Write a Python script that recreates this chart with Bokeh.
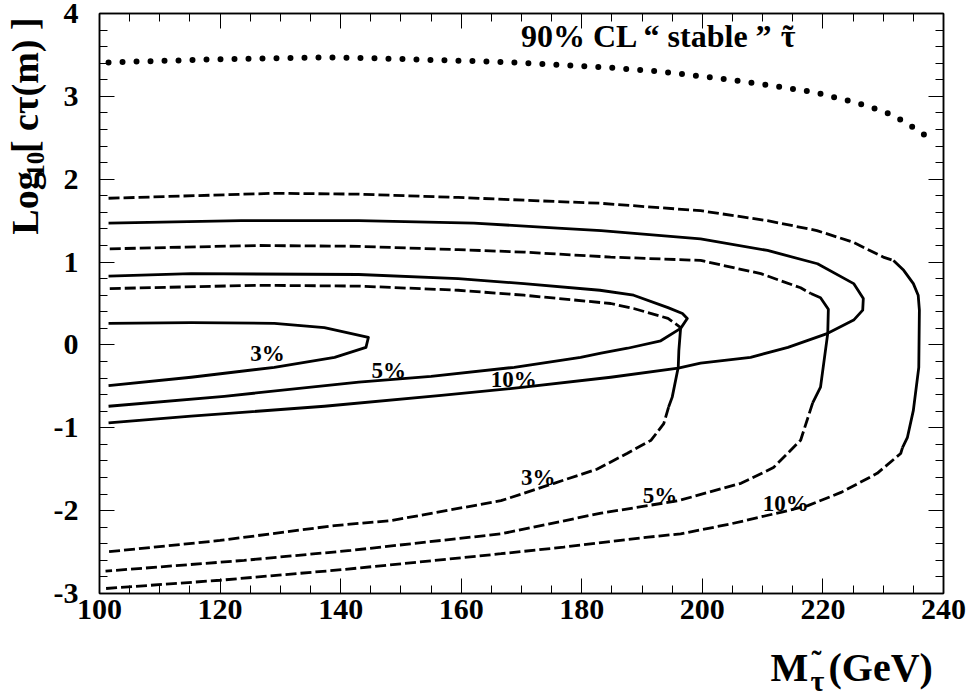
import numpy as np
from bokeh.plotting import figure
from bokeh.models import Range1d, LinearAxis, Label, FixedTicker
from bokeh.layouts import row, column
from bokeh.embed import file_html
from bokeh.resources import INLINE

# ---------------- data ----------------
x_ticks = [100, 120, 140, 160, 180, 200, 220, 240]
y_ticks = [-3, -2, -1, 0, 1, 2, 3, 4]
y_tick_labels = ["-3", "-2", "-1", "0", "1", "2", "3", "4"]

# 90% CL "stable" stau limit (dotted)
stable_x = [101.5, 111, 121, 130, 137, 145, 155, 165, 174, 184, 193, 202.5, 211.6, 218.5, 225.7, 230.4, 232.6, 235.1, 237.6]
stable_y = [3.41, 3.43, 3.45, 3.46, 3.47, 3.46, 3.44, 3.42, 3.39, 3.35, 3.30, 3.22, 3.13, 3.05, 2.92, 2.81, 2.73, 2.62, 2.50]

# solid contours (closed towards the left edge)
sol3_x = [101.5, 115.2, 129, 137.3, 144.6, 144.2, 139, 129, 115.2, 101.5]
sol3_y = [0.26, 0.27, 0.26, 0.21, 0.09, -0.03, -0.15, -0.27, -0.39, -0.49]

sol5_x = [101.5, 115.2, 143, 159.5, 170.4, 183, 188.6, 194.3, 196.7, 197.5, 196.4, 193.1, 187.6, 183.2, 179.8, 168.8, 155, 143, 120.7, 101.5]
sol5_y = [0.83, 0.86, 0.85, 0.80, 0.74, 0.66, 0.60, 0.45, 0.38, 0.32, 0.20, 0.05, -0.04, -0.10, -0.15, -0.27, -0.38, -0.45, -0.62, -0.74]

sol10_x = [101.5, 123.5, 143, 162.1, 176, 183.2, 199.7, 210.8, 219.1, 225.1, 226.7, 226.6, 225.1, 220.8, 214.2, 208, 199.7, 196, 184.8, 170.4, 156.7, 137.3, 115.2, 101.5]
sol10_y = [1.47, 1.50, 1.50, 1.47, 1.41, 1.38, 1.28, 1.14, 0.98, 0.74, 0.56, 0.42, 0.30, 0.14, -0.03, -0.15, -0.22, -0.28, -0.39, -0.51, -0.61, -0.74, -0.86, -0.94]

# outer contours: dashed upper part, solid turning part, dashed lower part
d3_top_x = [101.7, 126.3, 143, 159.5, 170.4, 184.8, 188.6, 194.3, 196.4]
d3_top_y = [0.68, 0.72, 0.71, 0.66, 0.60, 0.50, 0.44, 0.32, 0.21]
d3_mid_x = [196.4, 196.1, 196.0, 195.0, 194.4]
d3_mid_y = [0.21, -0.07, -0.27, -0.63, -0.75]
d3_bot_x = [194.4, 193.6, 191.5, 187.5, 182.5, 175.4, 166.6, 148.4, 139, 120, 101]
d3_bot_y = [-0.75, -0.95, -1.15, -1.31, -1.50, -1.67, -1.88, -2.12, -2.18, -2.36, -2.50]

d5_top_x = [101.7, 126.3, 143, 159.5, 170.4, 184.8, 199.7, 209.7, 216.3, 218.0]
d5_top_y = [1.16, 1.20, 1.19, 1.15, 1.12, 1.06, 1.02, 0.86, 0.69, 0.62]
d5_mid_x = [218.0, 219.6, 220.9, 220.8, 219.6, 218.3]
d5_mid_y = [0.62, 0.57, 0.43, 0.14, -0.51, -0.70]
d5_bot_x = [218.3, 216.3, 211.8, 206.4, 196, 183.2, 166.6, 141.7, 124, 101]
d5_bot_y = [-0.70, -1.15, -1.48, -1.67, -1.88, -2.03, -2.28, -2.48, -2.60, -2.73]

d10_top_x = [101.5, 129, 143, 159.5, 176, 183, 199.7, 210.8, 219, 225, 230, 231.7]
d10_top_y = [1.77, 1.83, 1.82, 1.78, 1.73, 1.71, 1.62, 1.50, 1.38, 1.24, 1.06, 1.02]
d10_mid_x = [231.7, 233.4, 235.0, 235.8, 236.0, 235.9, 235.0, 234.0, 233.2]
d10_mid_y = [1.02, 0.90, 0.74, 0.60, 0.42, -0.27, -0.79, -1.12, -1.24]
d10_bot_x = [233.2, 232.9, 229, 223, 217.5, 213, 204.7, 196.4, 191, 177, 166.6, 140.6, 120, 101]
d10_bot_y = [-1.24, -1.31, -1.55, -1.78, -1.94, -2.02, -2.16, -2.28, -2.32, -2.44, -2.52, -2.71, -2.84, -2.94]

contour_labels = ["3%", "5%", "10%", "3%", "5%", "10%"]
label_x = [125.0, 145.1, 164.9, 169.9, 190.1, 210.0]
label_y = [-0.105, -0.31, -0.415, -1.605, -1.815, -1.915]

FONT = "Liberation Serif"

# ---------------- main figure ----------------
p = figure(width=920, height=640,
           x_range=Range1d(100, 240), y_range=Range1d(-3, 4),
           output_backend="svg", toolbar_location=None,
           min_border_left=48, min_border_right=27,
           min_border_top=13, min_border_bottom=47)
p.xgrid.visible = False
p.ygrid.visible = False
p.background_fill_color = "white"
p.border_fill_color = "white"
p.outline_line_color = "black"
p.outline_line_width = 1.5

x_minor = list(np.arange(100, 241, 5))
y_minor = [round(v, 1) for v in np.arange(-3, 4.01, 0.2)]


def style_axis(ax, ticks, minor, show_labels):
    ax.ticker = FixedTicker(ticks=ticks, minor_ticks=minor)
    ax.axis_line_color = "black"
    ax.axis_line_width = 1.5
    ax.major_tick_in = 15
    ax.major_tick_out = 0
    ax.minor_tick_in = 8
    ax.minor_tick_out = 0
    ax.major_tick_line_color = "black"
    ax.minor_tick_line_color = "black"
    ax.major_tick_line_width = 1
    ax.minor_tick_line_width = 1
    ax.major_label_text_font = FONT
    ax.major_label_text_font_style = "bold"
    ax.major_label_text_font_size = "30px"
    ax.major_label_text_color = "black"
    if not show_labels:
        ax.major_label_overrides = {t: "" for t in ticks}
        ax.major_label_standoff = 0


style_axis(p.xaxis[0], x_ticks, x_minor, True)
p.xaxis[0].major_label_standoff = 6
style_axis(p.yaxis[0], y_ticks, y_minor, True)
p.yaxis[0].major_label_standoff = 21
p.yaxis[0].major_label_overrides = {t: s for t, s in zip(y_ticks, y_tick_labels)}

top = LinearAxis()
style_axis(top, x_ticks, x_minor, False)
p.add_layout(top, "above")
right = LinearAxis()
style_axis(right, y_ticks, y_minor, False)
p.add_layout(right, "right")

# ---------------- curves ----------------
LW = 2.8
DASH = "11 4"
p.line(stable_x, stable_y, line_color="black", line_width=6, line_dash="0 14", line_cap="round")

for xs, ys in [(sol3_x, sol3_y), (sol5_x, sol5_y), (sol10_x, sol10_y)]:
    p.line(xs, ys, line_color="black", line_width=LW, line_join="round")

for tx, ty, mx, my, bx, by in [
    (d3_top_x, d3_top_y, d3_mid_x, d3_mid_y, d3_bot_x, d3_bot_y),
    (d5_top_x, d5_top_y, d5_mid_x, d5_mid_y, d5_bot_x, d5_bot_y),
    (d10_top_x, d10_top_y, d10_mid_x, d10_mid_y, d10_bot_x, d10_bot_y),
]:
    p.line(tx, ty, line_color="black", line_width=LW, line_dash=DASH)
    p.line(mx, my, line_color="black", line_width=LW, line_join="round")
    p.line(bx, by, line_color="black", line_width=LW, line_dash=DASH)


def add_text(fig, x, y, text, size, angle=0.0, align="left", baseline="alphabetic"):
    fig.add_layout(Label(x=x, y=y, text=text, text_font=FONT, text_font_style="bold",
                         text_font_size=size, text_color="black", angle=angle,
                         text_align=align, text_baseline=baseline))


for t, lx, ly in zip(contour_labels, label_x, label_y):
    add_text(p, lx, ly, t, "23px")

# in-frame title: 90% CL " stable " stau
add_text(p, 169.9, 3.73, "90% CL \u201c stable \u201d", "32px")
add_text(p, 213.0, 3.73, "\u03c4", "32px")
add_text(p, 213.35, 3.73, "\u02dc", "32px")


# ---------------- axis titles (text-only side panels) ----------------
def text_fig(w, h):
    f = figure(width=w, height=h, x_range=Range1d(0, w), y_range=Range1d(0, h),
               output_backend="svg", toolbar_location=None, min_border=0,
               x_axis_type=None, y_axis_type=None)
    f.outline_line_color = None
    f.background_fill_color = "white"
    f.border_fill_color = "white"
    return f


left = text_fig(50, 640)          # y data = 640 - page y
ang = np.pi / 2
add_text(left, 24.5, 640 - 244, "Log", "38px", angle=ang)
add_text(left, 35, 640 - 180, "10", "25px", angle=ang)
add_text(left, 24.5, 640 - 154, "[ c\u03c4(m) ]", "38px", angle=ang)

bottom = text_fig(970, 58)       # y data = 698 - page y
add_text(bottom, 770, 31, "M", "40px")
add_text(bottom, 810, 18, "\u03c4", "30px")
add_text(bottom, 811, 38, "\u02dc", "30px")
add_text(bottom, 828, 31, "(GeV)", "40px")

layout = column(row(left, p, spacing=0), bottom, spacing=0)

open("out.html", "w").write(file_html(layout, INLINE))
